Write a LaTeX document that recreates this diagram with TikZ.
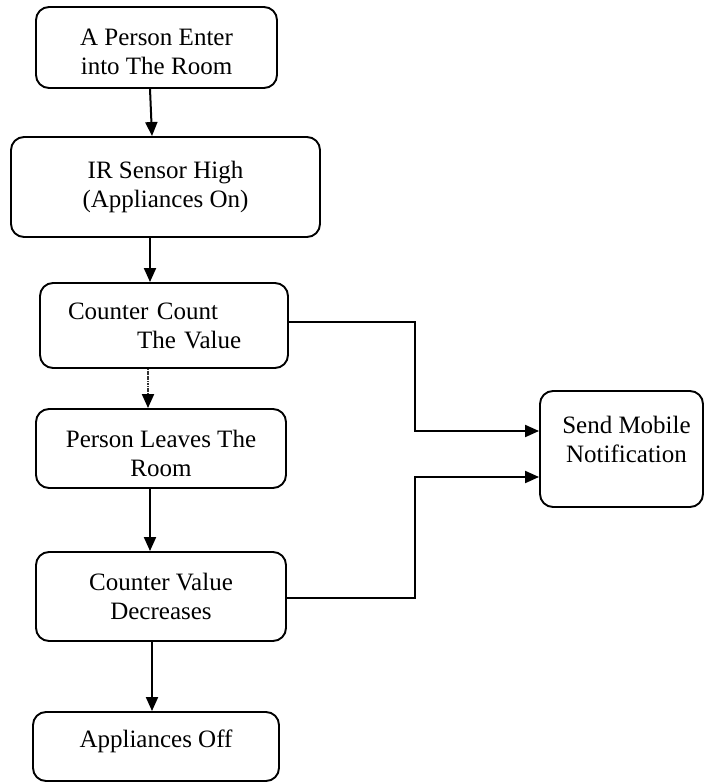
\documentclass[tikz,border=0pt]{standalone}
\usepackage{fontspec}
\setmainfont{Liberation Serif}
\usetikzlibrary{arrows.meta,calc}
\begin{document}
\begin{tikzpicture}[x=1pt,y=-1pt,
  box/.style={draw, line width=1.9pt, rounded corners=13pt, align=center, inner sep=0pt, font=\fontsize{25}{29}\selectfont},
  arr/.style={line width=2pt, -{Triangle[length=14pt,width=12pt]}},
  dotarr/.style={line width=2pt, draw=black!80, dash pattern=on 1.2pt off 0.5pt, -{Triangle[length=14pt,width=12pt,color=black]}}]
\useasboundingbox (0,0) rectangle (705,783);

\node[box, minimum width=241pt, minimum height=81pt, text height=55pt] (b1) at (156.5,47.5) {A Person Enter\\into The Room};
\node[box, minimum width=309pt, minimum height=100pt] (b2) at (165.5,187) {IR Sensor High\\(Appliances On)};
\node[box, minimum width=248pt, minimum height=85pt, text width=192pt, inner xsep=28pt, align=left] (b3) at (164,325.5) {Counter Count\\\hspace*{69pt}The Value};
\node[box, minimum width=250pt, minimum height=79pt, text height=57pt] (b4) at (161,448.5) {Person Leaves The\\Room};
\node[box, minimum width=250pt, minimum height=89pt] (b5) at (161,596.5) {Counter Value\\Decreases};
\node[box, minimum width=246pt, minimum height=69pt, text depth=16pt] (b6) at (156,746.5) {Appliances Off};
\node[box, minimum width=163pt, minimum height=116pt, text depth=20pt] (send) at (621.5,449) {\hspace*{10pt}Send Mobile\\\hspace*{10pt}Notification};

\coordinate (c148) at (148,0);
\coordinate (c150) at (150,0);
\coordinate (c152) at (152,0);
\coordinate (j1) at (415,431);
\coordinate (j2) at (415,477);

\draw[arr] ($(b1.south)+(-6.5,0)$) -- ($(b2.north)+(-13.5,0)$);
\draw[arr] (b2.south -| c150) -- (b3.north -| c150);
\draw[dotarr] (b3.south -| c148) -- (b4.north -| c148);
\draw[arr] (b4.south -| c150) -- (b5.north -| c150);
\draw[arr] (b5.south -| c152) -- (b6.north -| c152);

\draw[arr] ($(b3.east)+(0,-3.5)$) -| (j1) -- (j1 -| send.west);
\draw[arr] ($(b5.east)+(0,1.5)$) -| (j2) -- (j2 -| send.west);
\end{tikzpicture}
\end{document}
